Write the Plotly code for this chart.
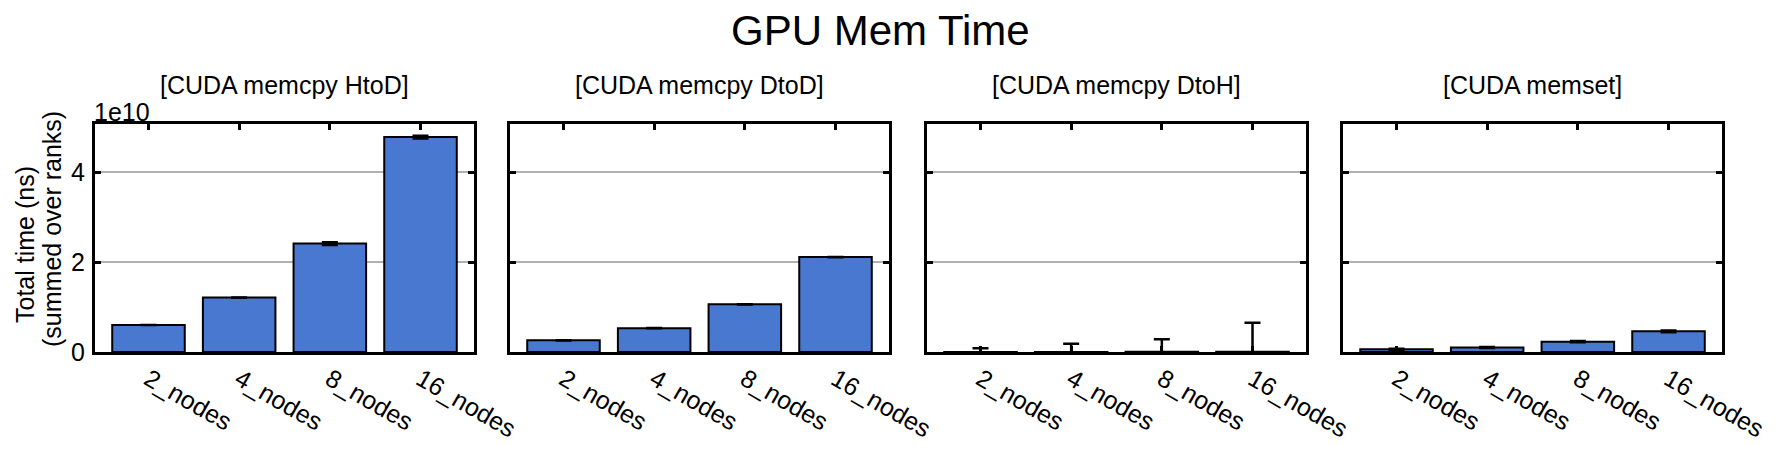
import plotly.graph_objects as go

W, H = 1778, 449

categories = ["2_nodes", "4_nodes", "8_nodes", "16_nodes"]
panel_titles = ["[CUDA memcpy HtoD]", "[CUDA memcpy DtoD]", "[CUDA memcpy DtoH]", "[CUDA memset]"]

htod_vals = [0.60e10, 1.21e10, 2.41e10, 4.78e10]
htod_err = [0.002e10, 0.002e10, 0.03e10, 0.03e10]
dtod_vals = [0.26e10, 0.53e10, 1.06e10, 2.11e10]
dtod_err = [0.002e10, 0.002e10, 0.003e10, 0.004e10]
dtoh_vals = [0.001e10, 0.002e10, 0.003e10, 0.005e10]
dtoh_err = [0.084e10, 0.18e10, 0.28e10, 0.645e10]
memset_vals = [0.06e10, 0.10e10, 0.23e10, 0.46e10]
memset_err = [0.01e10, 0.01e10, 0.012e10, 0.02e10]

values = [htod_vals, dtod_vals, dtoh_vals, memset_vals]
errors = [htod_err, dtod_err, dtoh_err, memset_err]

y_tickvals = [0, 2e10, 4e10]
y_ticktext = ["0", "2", "4"]
y_max = 5.07e10

FONT = "Liberation Sans, Arial, sans-serif"
BAR_COLOR = "#4878CF"
FS = 25

x_left = [95, 510, 927, 1343]
panel_w = 379
y_top, y_bot = 124, 352

fig = go.Figure()
for i in range(4):
    xa = "x" if i == 0 else f"x{i+1}"
    ya = "y" if i == 0 else f"y{i+1}"
    fig.add_trace(go.Bar(
        x=categories, y=values[i], xaxis=xa, yaxis=ya,
        width=0.8,
        marker=dict(color=BAR_COLOR, line=dict(color="black", width=2)),
        error_y=dict(type="data", array=errors[i], visible=True,
                     color="black", thickness=2.5, width=8),
        showlegend=False,
    ))

layout = dict(
    width=W, height=H,
    margin=dict(l=0, r=0, t=0, b=0, pad=0),
    paper_bgcolor="white", plot_bgcolor="white",
    font=dict(family=FONT, size=FS, color="black"),
)
ydom = [1 - y_bot / H, 1 - y_top / H]
for i in range(4):
    xk = "xaxis" if i == 0 else f"xaxis{i+1}"
    yk = "yaxis" if i == 0 else f"yaxis{i+1}"
    ya = "y" if i == 0 else f"y{i+1}"
    xa = "x" if i == 0 else f"x{i+1}"
    layout[xk] = dict(
        domain=[x_left[i] / W, (x_left[i] + panel_w) / W],
        anchor=ya, type="category", range=[-0.59, 3.59], automargin=False,
        showline=True, linecolor="black", linewidth=3, mirror="allticks",
        ticks="inside", ticklen=6, tickwidth=2.5, tickcolor="black",
        tickangle=30, tickfont=dict(size=FS, family=FONT),
        showgrid=False, zeroline=False, layer="below traces",
    )
    layout[yk] = dict(
        domain=ydom, anchor=xa, range=[0, y_max], automargin=False,
        tickvals=y_tickvals, ticktext=y_ticktext,
        showticklabels=(i == 0),
        showline=True, linecolor="black", linewidth=3, mirror="allticks",
        ticks="inside", ticklen=6, tickwidth=2.5, tickcolor="black",
        tickfont=dict(size=FS, family=FONT), ticklabelstandoff=2,
        showgrid=True, gridcolor="#b0b0b0", gridwidth=1.5,
        zeroline=False, layer="below traces",
    )
fig.update_layout(**layout)

annotations = [
    dict(text="GPU Mem Time", x=880 / W, y=1 - 31 / H, xref="paper", yref="paper",
         showarrow=False, font=dict(size=42, family=FONT), xanchor="center", yanchor="middle"),
    dict(text="1e10", x=92 / W, y=1 - 112 / H, xref="paper", yref="paper",
         showarrow=False, font=dict(size=FS, family=FONT), xanchor="left", yanchor="middle"),
    dict(text="Total time (ns)", x=25 / W, y=1 - 245 / H,
         xref="paper", yref="paper", showarrow=False, textangle=-90,
         font=dict(size=FS, family=FONT), xanchor="center", yanchor="middle"),
    dict(text="(summed over ranks)", x=52 / W, y=1 - 229 / H,
         xref="paper", yref="paper", showarrow=False, textangle=-90,
         font=dict(size=FS, family=FONT), xanchor="center", yanchor="middle"),
]
for i in range(4):
    annotations.append(dict(
        text=panel_titles[i], x=(x_left[i] + panel_w / 2) / W, y=1 - 85 / H,
        xref="paper", yref="paper", showarrow=False,
        font=dict(size=FS, family=FONT), xanchor="center", yanchor="middle"))
fig.update_layout(annotations=annotations)

fig.write_html(
    "out.html",
    config={"displayModeBar": False},
    post_script="document.body.style.margin='0';document.body.style.padding='0';"
                "document.documentElement.style.overflow='hidden';",
)
